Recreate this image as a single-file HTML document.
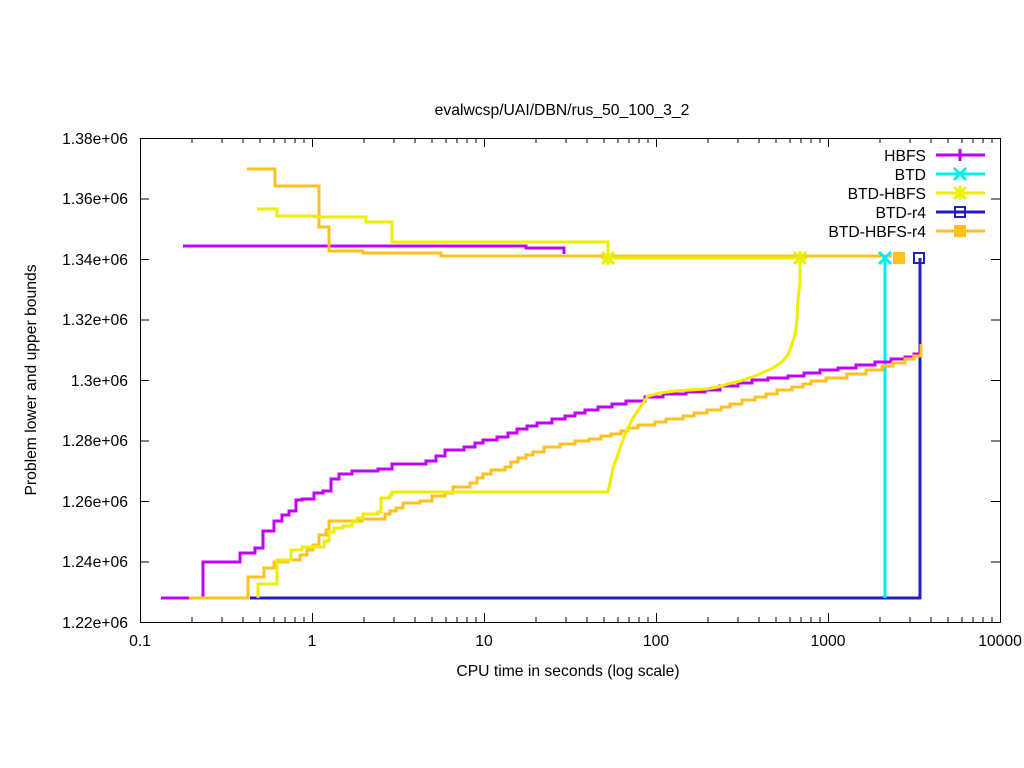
<!DOCTYPE html>
<html><head><meta charset="utf-8"><style>body{margin:0;background:#fff}svg{display:block}text{font-family:"Liberation Sans",sans-serif;font-size:15.7px;fill:#000}</style></head><body>
<svg width="1024" height="768" viewBox="0 0 1024 768" xmlns="http://www.w3.org/2000/svg">
<rect width="1024" height="768" fill="#fff"/>
<g stroke="#000" stroke-width="1" fill="none">
<rect x="140.5" y="138.5" width="860" height="484"/>
</g>
<g text-anchor="end">
<text x="128" y="628">1.22e+06</text><text x="128" y="567">1.24e+06</text><text x="128" y="507">1.26e+06</text><text x="128" y="446">1.28e+06</text><text x="128" y="386">1.3e+06</text><text x="128" y="325">1.32e+06</text><text x="128" y="265">1.34e+06</text><text x="128" y="204">1.36e+06</text><text x="128" y="144">1.38e+06</text>
</g>
<g text-anchor="middle">
<text x="140" y="646">0.1</text><text x="312" y="646">1</text><text x="484" y="646">10</text><text x="656" y="646">100</text><text x="828" y="646">1000</text><text x="1000" y="646">10000</text>
<text x="562" y="115">evalwcsp/UAI/DBN/rus_50_100_3_2</text>
<text x="568" y="676">CPU time in seconds (log scale)</text>
<text transform="translate(36,380) rotate(-90)">Problem lower and upper bounds</text>
</g>
<g text-anchor="end">
<text x="926" y="161">HBFS</text><text x="926" y="180">BTD</text><text x="926" y="199">BTD-HBFS</text><text x="926" y="218">BTD-r4</text><text x="926" y="237">BTD-HBFS-r4</text>
</g>
<g fill="none" stroke-width="3">
<path stroke="#c000ff" d="M936 155H985M960 149V161"/>
<path stroke="#00eeee" d="M936 174H985M954 168L966 180M954 180L966 168"/>
<path stroke="#eeee00" d="M936 193H985M954 187L966 199M954 199L966 187M960 186V200M953 193H967"/>
<path stroke="#2020c0" d="M936 212H985"/><rect x="955" y="207" width="10" height="10" stroke="#2020c0" stroke-width="2"/>
<path stroke="#ffc020" d="M936 231H985"/><rect x="954" y="225" width="12" height="12" fill="#ffc020" stroke="none"/>

<path stroke="#2020c0" d="M250 598H920V258"/>
<path stroke="#00eeee" d="M885 598V258"/>
<path stroke="#c000ff" d="M183 246H526V248H564V254"/>
<path stroke="#ffc020" d="M247 169H275V186H319V227H329V251H363V253H441V256H892"/>
<path stroke="#eeee00" d="M257 209H277V216H315V217H366V222H392V242H608V258H800"/>
<path stroke="#c000ff" d="M161 598H203V562H240V553H255V548H263V531H274V521H282V515H289V511H296V500H302V499H314V493H323V491H331V479H339V474H352V471H378V469H392V464H426V461H436V456H445V450H464V447H475V443H483V440H497V437H508V433H517V429H527V426H537V423H552V419H565V416H575V413H585V410H598V407H612V404H626V401H645V397H663V394H686V392H705V390H720V386H738V383H752V380H768V378H788V376H804V373H820V370H838V368H856V365H875V362H891V359H905V357H914V354H921V352"/>
<path stroke="#ffc020" d="M189 598H248V577H264V568H274V562H288V560H300V555H307V550H313V545H319V535H326V530H329V521H362V519H385V514H390V511H396V508H403V503H420V501H432V496H445V493H453V487H470V483H477V478H483V474H491V470H505V467H511V462H518V458H526V455H533V452H544V447H560V444H575V441H589V439H601V436H611V434H621V431H628V428H638V425H655V422H666V419H683V416H694V413H707V410H721V407H730V404H742V400H755V397H766V394H777V390H792V387H803V384H811V381H826V378H847V374H866V370H882V366H893V363H905V359H914V356H921V344"/>
<path stroke="#eeee00" d="M258 598V584H277V560H291V550H302V547H324V541H329V532H334V528H343V526H352V522H357V518H363V514H378V512H381V498H390V495H392V492H608L611 478L613 468L616 460L620 448L623 440L627 430L633 418L641 406L648 396L660 393L675 391L690 390L706 389L718 387L728 384L740 381L752 377L762 373L773 368L782 362L788 355L792 344L795 335L797 320L798 300L800 282L800 259"/>
<path stroke="#eeee00" d="M602 252L614 264M602 264L614 252M608 251V265M601 258H615M794 252L806 264M794 264L806 252M800 251V265M793 258H807"/>
<path stroke="#00eeee" d="M879 252L891 264M879 264L891 252"/>
<rect x="914" y="253" width="10" height="10" stroke="#2020c0" stroke-width="2"/>
<rect x="893" y="252" width="12" height="12" fill="#ffc020" stroke="none"/>
</g>
<g stroke="#000" stroke-width="1">
<path d="M140 622.5h9M140 562h9M140 501.5h9M140 441h9M140 380.5h9M140 320h9M140 259.5h9M140 199h9M1000 562h-9M1000 501.5h-9M1000 441h-9M1000 380.5h-9M1000 320h-9M1000 259.5h-9M1000 199h-9"/>
<path d="M312.5 622v-9M484.5 622v-9M656.5 622v-9M828.5 622v-9M312.5 138v9M484.5 138v9M656.5 138v9M828.5 138v9
M192 622v-5M222 622v-5M243 622v-5M260 622v-5M274 622v-5M285 622v-5M295 622v-5M304 622v-5
M364 622v-5M394 622v-5M415 622v-5M432 622v-5M446 622v-5M457 622v-5M467 622v-5M476 622v-5
M536 622v-5M566 622v-5M587 622v-5M604 622v-5M618 622v-5M629 622v-5M639 622v-5M648 622v-5
M708 622v-5M738 622v-5M759 622v-5M776 622v-5M790 622v-5M801 622v-5M811 622v-5M820 622v-5
M880 622v-5M910 622v-5M931 622v-5M948 622v-5M962 622v-5M973 622v-5M983 622v-5M992 622v-5
M192 138v5M222 138v5M243 138v5M260 138v5M274 138v5M285 138v5M295 138v5M304 138v5
M364 138v5M394 138v5M415 138v5M432 138v5M446 138v5M457 138v5M467 138v5M476 138v5
M536 138v5M566 138v5M587 138v5M604 138v5M618 138v5M629 138v5M639 138v5M648 138v5
M708 138v5M738 138v5M759 138v5M776 138v5M790 138v5M801 138v5M811 138v5M820 138v5
M880 138v5M910 138v5M931 138v5M948 138v5M962 138v5M973 138v5M983 138v5M992 138v5"/>
</g>
</svg>
</body></html>
